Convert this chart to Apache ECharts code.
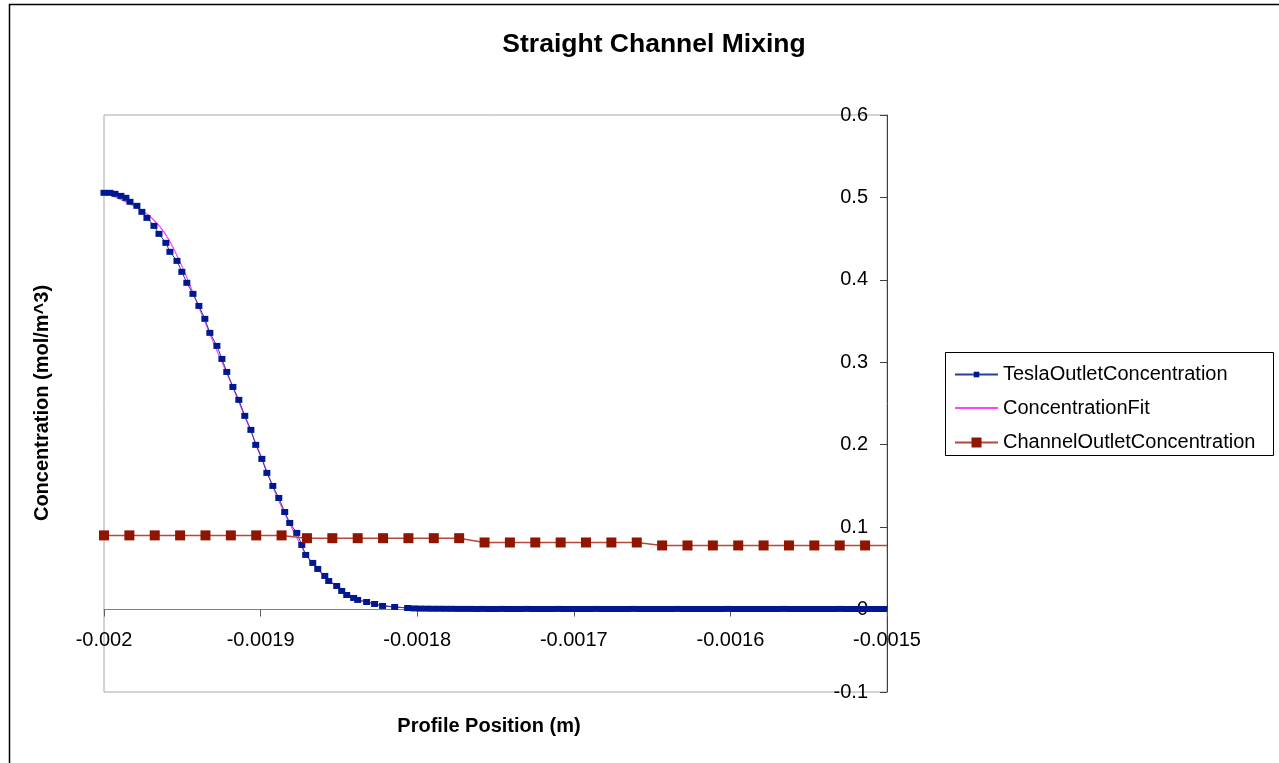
<!DOCTYPE html>
<html>
<head>
<meta charset="utf-8">
<title>Straight Channel Mixing</title>
<script src="https://cdn.jsdelivr.net/npm/echarts@6/dist/echarts.min.js"></script>
<style>
  html, body { margin: 0; padding: 0; background: #ffffff; }
  #chart { width: 1279px; height: 763px; }
</style>
</head>
<body>
<div id="chart"></div>
<script>
// Profile positions (m) and concentrations (mol/m^3) at the Tesla outlet
const teslaX = [
  -0.0020000, -0.0019962, -0.0019930, -0.0019892, -0.0019860, -0.0019834, -0.0019790, -0.0019758,
  -0.0019726, -0.0019681, -0.0019649, -0.0019605, -0.0019579, -0.0019534, -0.0019503, -0.0019471,
  -0.0019432, -0.0019394, -0.0019356, -0.0019324, -0.0019279, -0.0019247, -0.0019216, -0.0019177,
  -0.0019139, -0.0019101, -0.0019062, -0.0019031, -0.0018992, -0.0018960, -0.0018922, -0.0018884,
  -0.0018846, -0.0018814, -0.0018769, -0.0018737, -0.0018712, -0.0018667, -0.0018635, -0.0018590,
  -0.0018565, -0.0018514, -0.0018482, -0.0018450, -0.0018406, -0.0018380, -0.0018323, -0.0018272,
  -0.0018221, -0.0018144, -0.0018061,
  -0.001802, -0.001798, -0.001794, -0.001790, -0.001786, -0.001782, -0.001778, -0.001774,
  -0.001770, -0.001766, -0.001762, -0.001758, -0.001754, -0.001750, -0.001746, -0.001742,
  -0.001738, -0.001734, -0.001730, -0.001726, -0.001722, -0.001718, -0.001714, -0.001710,
  -0.001706, -0.001702, -0.001698, -0.001694, -0.001690, -0.001686, -0.001682, -0.001678,
  -0.001674, -0.001670, -0.001666, -0.001662, -0.001658, -0.001654, -0.001650, -0.001646,
  -0.001642, -0.001638, -0.001634, -0.001630, -0.001626, -0.001622, -0.001618, -0.001614,
  -0.001610, -0.001606, -0.001602, -0.001598, -0.001594, -0.001590, -0.001586, -0.001582,
  -0.001578, -0.001574, -0.001570, -0.001566, -0.001562, -0.001558, -0.001554, -0.001550,
  -0.001546, -0.001542, -0.001538, -0.001534, -0.001530, -0.001526, -0.001522, -0.001518,
  -0.001514, -0.001510, -0.001506, -0.001502
];
const teslaY = [
  0.5056, 0.5056, 0.5044, 0.5019, 0.4995, 0.4947, 0.4898, 0.4825,
  0.4752, 0.4655, 0.4558, 0.4449, 0.4340, 0.4230, 0.4097, 0.3964,
  0.3830, 0.3684, 0.3527, 0.3357, 0.3199, 0.3041, 0.2883, 0.2701,
  0.2544, 0.2350, 0.2180, 0.1998, 0.1828, 0.1658, 0.1500, 0.1354,
  0.1184, 0.1051, 0.0930, 0.0784, 0.0663, 0.0566, 0.0493, 0.0408,
  0.0347, 0.0286, 0.0226, 0.0177, 0.0141, 0.0117, 0.0092, 0.0068,
  0.0044, 0.0032, 0.0019,
  0.0014, 0.0012, 0.0011, 0.0010, 0.0010, 0.0009, 0.0009, 0.0008,
  0.0008, 0.0008, 0.0007, 0.0008, 0.0007, 0.0007, 0.0008, 0.0007,
  0.0007, 0.0007, 0.0008, 0.0007, 0.0007, 0.0007, 0.0007, 0.0008,
  0.0007, 0.0007, 0.0007, 0.0007, 0.0007, 0.0008, 0.0007, 0.0007,
  0.0007, 0.0007, 0.0007, 0.0008, 0.0007, 0.0007, 0.0007, 0.0007,
  0.0007, 0.0007, 0.0008, 0.0007, 0.0007, 0.0007, 0.0007, 0.0007,
  0.0007, 0.0007, 0.0008, 0.0007, 0.0007, 0.0007, 0.0007, 0.0007,
  0.0007, 0.0007, 0.0007, 0.0008, 0.0007, 0.0007, 0.0007, 0.0007,
  0.0007, 0.0007, 0.0007, 0.0007, 0.0008, 0.0007, 0.0007, 0.0007,
  0.0007, 0.0007, 0.0007, 0.0007
];

// Fitted concentration profile
const fitX = [
  -0.00200, -0.00199, -0.00198, -0.00197, -0.00196, -0.00195, -0.00194, -0.00193,
  -0.00192, -0.00191, -0.00190, -0.00189, -0.00188, -0.00187, -0.00186, -0.00185,
  -0.00184, -0.00183, -0.00182, -0.00181, -0.00180, -0.00178, -0.00175, -0.00170,
  -0.00165, -0.00160, -0.00155, -0.00150
];
const fitY = [
  0.5056, 0.4983, 0.4886, 0.4760, 0.4534, 0.4157, 0.3696, 0.3235,
  0.2799, 0.2337, 0.1876, 0.1391, 0.0990, 0.0638, 0.0420, 0.0262,
  0.0141, 0.0080, 0.0044, 0.0025, 0.0012, 0.0004, 0.0001, 0.0000,
  0.0000, 0.0000, 0.0000, 0.0000
];

// Concentration at the straight channel outlet
const channelX = [
  -0.0020000, -0.0019838, -0.0019676, -0.0019514, -0.0019352, -0.0019190, -0.0019028, -0.0018866,
  -0.0018704, -0.0018542, -0.0018380, -0.0018218, -0.0018056, -0.0017894, -0.0017732, -0.0017570,
  -0.0017408, -0.0017246, -0.0017084, -0.0016922, -0.0016760, -0.0016598, -0.0016436, -0.0016274,
  -0.0016112, -0.0015950, -0.0015788, -0.0015626, -0.0015464, -0.0015302, -0.0015140, -0.0015000
];
const channelY = [
  0.0900, 0.0900, 0.0900, 0.0900, 0.0900, 0.0900, 0.0900, 0.0900,
  0.0866, 0.0866, 0.0866, 0.0866, 0.0866, 0.0866, 0.0866, 0.0814,
  0.0814, 0.0814, 0.0814, 0.0814, 0.0814, 0.0814, 0.0778, 0.0778,
  0.0778, 0.0778, 0.0778, 0.0778, 0.0778, 0.0778, 0.0778, 0.0778
];

const seriesNames = ['TeslaOutletConcentration', 'ConcentrationFit', 'ChannelOutletConcentration'];

const FONT = '"Liberation Sans", Arial, sans-serif';
const pairs = (xs, ys) => xs.map((x, i) => [x, ys[i]]);

// the last channel sample closes the line at the right edge without a marker
const channelData = pairs(channelX, channelY).map((p, i, arr) =>
  i === arr.length - 1 ? { value: p, symbol: 'none' } : p);

// plot box and value range of the concentration axis
const plotTop = 115, plotBottom = 692;
const yMin = -0.1, yMax = 0.6;
// the position axis runs along zero concentration
const xAxisOffset = -(plotBottom - plotTop) * (0 - yMin) / (yMax - yMin);

const chart = echarts.init(document.getElementById('chart'), null, { renderer: 'canvas' });

const legendBase = {
  orient: 'vertical',
  left: 954,
  padding: 0,
  itemWidth: 43,
  textStyle: { fontFamily: FONT, fontSize: 20, color: '#000' },
  selectedMode: false
};

chart.setOption({
  animation: false,
  backgroundColor: '#ffffff',
  title: {
    text: 'Straight Channel Mixing',
    left: 649,
    top: 26,
    textAlign: 'center',
    textStyle: { fontFamily: FONT, fontSize: 26.5, fontWeight: 'bold', color: '#000' }
  },
  legend: [
    Object.assign({}, legendBase, { data: [seriesNames[0]], top: 364.5, itemHeight: 7 }),
    Object.assign({}, legendBase, { data: [seriesNames[1]], top: 398, itemHeight: 12,
      itemStyle: { opacity: 0 } }),
    Object.assign({}, legendBase, { data: [seriesNames[2]], top: 432.5, itemHeight: 12.5 })
  ],
  grid: {
    left: 104, right: 392, top: plotTop, bottom: 763 - plotBottom,
    show: true, borderColor: '#a8a8a8', borderWidth: 1, backgroundColor: '#ffffff'
  },
  xAxis: {
    type: 'value',
    min: -0.002, max: -0.0015, interval: 0.0001,
    offset: xAxisOffset,
    axisLine: { show: true, onZero: false, lineStyle: { color: '#808080', width: 1 } },
    axisTick: { show: true, inside: false, length: 7, lineStyle: { color: '#606060' } },
    axisLabel: { margin: 21, fontFamily: FONT, fontSize: 20, color: '#000' },
    splitLine: { show: false }
  },
  yAxis: {
    type: 'value',
    position: 'right',
    min: yMin, max: yMax, interval: 0.1,
    axisLine: { show: true, onZero: false, lineStyle: { color: '#404040', width: 1 } },
    axisTick: { show: true, inside: true, length: 7, lineStyle: { color: '#404040' } },
    axisLabel: { inside: true, margin: 19, fontFamily: FONT, fontSize: 20, color: '#000' },
    splitLine: { show: false }
  },
  series: [
    {
      name: seriesNames[0],
      type: 'line',
      data: pairs(teslaX, teslaY),
      showAllSymbol: true,
      symbol: 'rect',
      symbolSize: [7, 6],
      itemStyle: { color: '#00188f' },
      lineStyle: { color: '#2a3f9c', width: 1 },
      z: 3
    },
    {
      name: seriesNames[1],
      type: 'line',
      data: pairs(fitX, fitY),
      smooth: 0.3,
      symbol: 'none',
      itemStyle: { color: '#ff44ff' },
      lineStyle: { color: '#ff44ff', width: 1.2 },
      z: 2
    },
    {
      name: seriesNames[2],
      type: 'line',
      data: channelData,
      showAllSymbol: true,
      symbol: 'rect',
      symbolSize: 10,
      itemStyle: { color: '#8f1500' },
      lineStyle: { color: '#b4483a', width: 1.5 },
      z: 4
    }
  ],
  graphic: [
    // chart frame
    { type: 'rect', shape: { x: 9.5, y: 4.5, width: 1300, height: 800 },
      style: { fill: 'none', stroke: '#000', lineWidth: 1.5 }, silent: true, z: 100 },
    // legend frame
    { type: 'rect', shape: { x: 945.5, y: 352.5, width: 328, height: 103 },
      style: { fill: 'none', stroke: '#000', lineWidth: 1 }, silent: true, z: 100 },
    // axis titles
    { type: 'text', x: 489, y: 726,
      style: { text: 'Profile Position (m)', font: 'bold 20px ' + FONT, fill: '#000',
               textAlign: 'center', textVerticalAlign: 'middle' }, z: 100 },
    { type: 'text', x: 42, y: 403, rotation: Math.PI / 2,
      style: { text: 'Concentration (mol/m^3)', font: 'bold 20px ' + FONT, fill: '#000',
               textAlign: 'center', textVerticalAlign: 'middle' }, z: 100 }
  ]
});
</script>
</body>
</html>
